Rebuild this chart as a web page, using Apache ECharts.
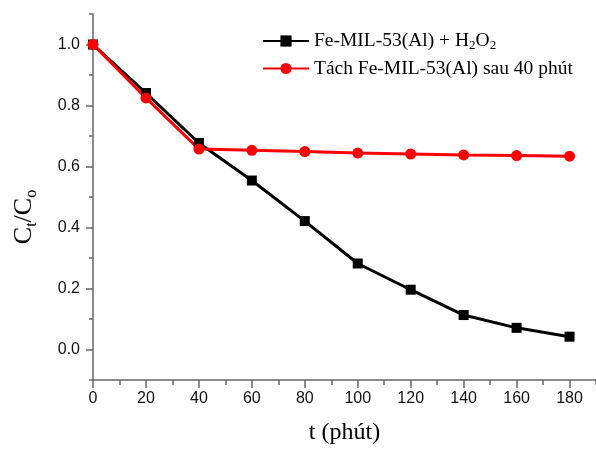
<!DOCTYPE html>
<html>
<head>
<meta charset="utf-8">
<script src="https://cdn.jsdelivr.net/npm/echarts@6/dist/echarts.min.js"></script>
<style>
html,body{margin:0;padding:0;background:#fff;}
#c{width:596px;height:450px;}
</style>
</head>
<body>
<div id="c"></div>
<script>
var times = [0, 20, 40, 60, 80, 100, 120, 140, 160, 180];
var withH2O2 = [1.0, 0.841, 0.677, 0.554, 0.421, 0.282, 0.196, 0.113, 0.071, 0.042];
var separated = [1.0, 0.825, 0.657, 0.653, 0.649, 0.644, 0.641, 0.638, 0.636, 0.634];
var xTickLabels = [0, 20, 40, 60, 80, 100, 120, 140, 160, 180];
var xMinorTicks = [10, 30, 50, 70, 90, 110, 130, 150, 170, 190];
var yTickLabels = [0.0, 0.2, 0.4, 0.6, 0.8, 1.0];
var yMinorTicks = [-0.1, 0.1, 0.3, 0.5, 0.7, 0.9, 1.1];
var seriesNames = ['Fe-MIL-53(Al) + H2O2', 'Tách Fe-MIL-53(Al) sau 40 phút'];

function pairs(xs, ys) { return xs.map(function (x, i) { return [x, ys[i]]; }); }

var chart = echarts.init(document.getElementById('c'));
var axisColor = '#666';
var serif = 'Liberation Serif, Times New Roman, serif';
var sans = 'Liberation Sans, Arial, sans-serif';

chart.setOption({
  animation: false,
  backgroundColor: '#fff',
  grid: { left: 93, right: 0, top: 14, bottom: 66 },
  legend: {
    orient: 'vertical',
    left: 262,
    top: 31,
    padding: 0,
    itemWidth: 46,
    itemHeight: 14,
    itemGap: 6,
    data: seriesNames,
    formatter: function (name) {
      if (name === seriesNames[0]) return '{a|Fe-MIL-53(Al) + H}{s|2}{a|O}{s|2}';
      return '{a|' + name + '}';
    },
    textStyle: {
      fontFamily: serif, fontSize: 19.5, color: '#000',
      rich: {
        a: { fontFamily: serif, fontSize: 19.5, lineHeight: 23, color: '#000' },
        s: { fontFamily: serif, fontSize: 13, lineHeight: 23, verticalAlign: 'bottom', color: '#000' }
      }
    }
  },
  xAxis: [{
    type: 'value', min: 0, max: 190,
    name: 't (phút)', nameLocation: 'middle', nameGap: 41,
    nameTextStyle: { fontFamily: serif, fontSize: 24, color: '#000' },
    splitLine: { show: false },
    axisLine: { show: true, onZero: false, lineStyle: { color: axisColor, width: 1.5 } },
    axisTick: { show: true, inside: false, length: 8, customValues: xTickLabels, lineStyle: { color: axisColor, width: 1.5 } },
    axisLabel: { customValues: xTickLabels, fontFamily: sans, fontSize: 16, color: '#111', margin: 11 }
  }, {
    type: 'value', min: 0, max: 190, position: 'bottom',
    splitLine: { show: false },
    axisLine: { show: false, onZero: false },
    axisTick: { show: true, inside: false, length: 5, customValues: xMinorTicks, lineStyle: { color: axisColor, width: 1.5 } },
    axisLabel: { show: false }
  }],
  yAxis: [{
    type: 'value', min: -0.1, max: 1.1,
    splitLine: { show: false },
    axisLine: { show: true, onZero: false, lineStyle: { color: axisColor, width: 1.5 } },
    axisTick: { show: true, inside: false, length: 7, customValues: yTickLabels, lineStyle: { color: axisColor, width: 1.5 } },
    axisLabel: { customValues: yTickLabels, fontFamily: sans, fontSize: 16, color: '#111', margin: 13,
      formatter: function (v) { return v.toFixed(1); } }
  }, {
    type: 'value', min: -0.1, max: 1.1, position: 'left',
    splitLine: { show: false },
    axisLine: { show: false, onZero: false },
    axisTick: { show: true, inside: false, length: 4, customValues: yMinorTicks, lineStyle: { color: axisColor, width: 1.5 } },
    axisLabel: { show: false }
  }],
  graphic: [{
    type: 'text',
    x: 24, y: 217,
    rotation: Math.PI / 2,
    style: {
      text: '{a|C}{s|t}{a|/C}{s|o}',
      align: 'center', verticalAlign: 'middle',
      rich: {
        a: { fontFamily: serif, fontSize: 26, lineHeight: 32, fill: '#000' },
        s: { fontFamily: serif, fontSize: 16, lineHeight: 32, verticalAlign: 'bottom', fill: '#000' }
      }
    }
  }],
  series: [{
    name: seriesNames[0], type: 'line',
    data: pairs(times, withH2O2),
    symbol: 'rect', symbolSize: 10,
    lineStyle: { color: '#000', width: 3 },
    itemStyle: { color: '#000' }
  }, {
    name: seriesNames[1], type: 'line',
    data: pairs(times, separated),
    symbol: 'circle', symbolSize: 11,
    lineStyle: { color: '#ff0000', width: 3 },
    itemStyle: { color: '#ff0000' }
  }]
});
</script>
</body>
</html>
